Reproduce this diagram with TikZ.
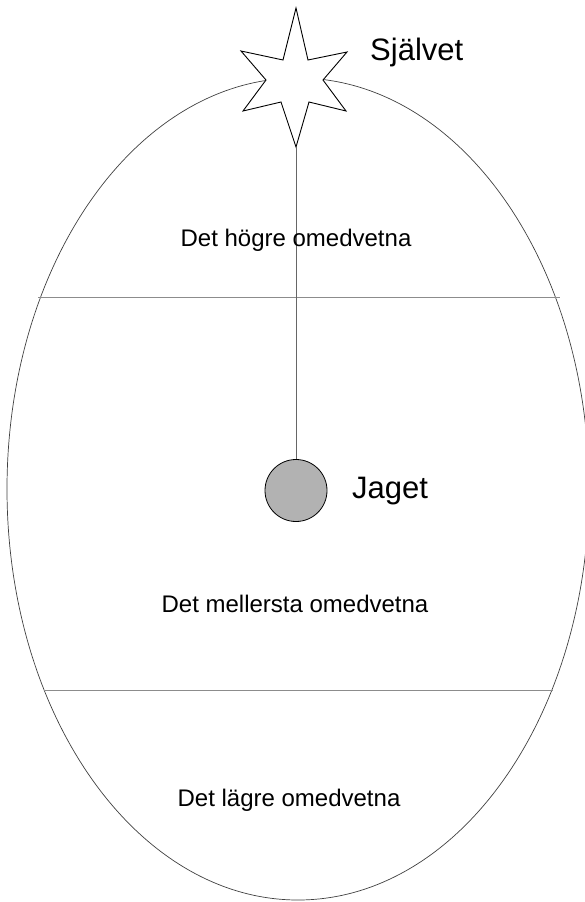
\documentclass[tikz,border=0pt]{standalone}
\usepackage{fontspec}
\setmainfont{Liberation Sans}
\begin{document}
\begin{tikzpicture}[x=1pt,y=-1pt,
  bigtxt/.style={font=\fontsize{31}{36}\selectfont, inner sep=0pt},
  midtxt/.style={font=\fontsize{24}{28}\selectfont, inner sep=0pt},
  layerline/.style={draw=black!45, line width=0.7pt},
  outline/.style={draw=black!75, line width=0.7pt},
  thread/.style={draw=black!60, line width=0.9pt}]
\useasboundingbox (0,0) rectangle (585,902);
% psyche ellipse
\draw[outline] (298,489) ellipse [x radius=291, y radius=411];
% layer boundaries
\coordinate (l1a) at (38,297); \coordinate (l1b) at (560,297);
\coordinate (l2a) at (44,690); \coordinate (l2b) at (553,690);
\draw[layerline] (l1a) -- (l1b);
\draw[layerline] (l2a) -- (l2b);
% star (Självet)
\coordinate (sbot) at (296,147);
\filldraw[fill=white, draw=black, line width=0.9pt, line join=miter]
  (296,8) -- (308,60) -- (347,52) -- (323,80) -- (346,111) -- (309,102)
  -- (sbot) -- (281,102) -- (243,111) -- (266,80) -- (241,51) -- (283,60) -- cycle;
% Jaget circle
\node[circle, draw=black, line width=0.8pt, fill=black!30, minimum size=62pt, inner sep=0pt] (jag) at (296,490.5) {};
\draw[thread] (sbot) -- (jag.north);
% labels
\node[bigtxt, anchor=base west] (sjalv) at (370,60) {Självet};
\node[bigtxt, anchor=base west] (jaget) at (352,498) {Jaget};
\node[midtxt, anchor=base] (hog) at (296,246) {Det högre omedvetna};
\node[midtxt, anchor=base] (mel) at (295,612) {Det mellersta omedvetna};
\node[midtxt, anchor=base] (lag) at (289,806) {Det lägre omedvetna};
\end{tikzpicture}
\end{document}
